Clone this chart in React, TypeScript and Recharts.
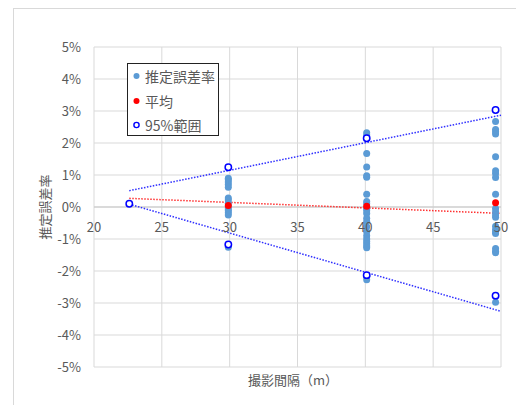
import {
  ComposedChart,
  Scatter,
  XAxis,
  YAxis,
  CartesianGrid,
  ReferenceLine,
} from "recharts";

// 撮影間隔 (m) の位置
const X30 = 29.9;
const X40 = 40.1;
const X50 = 49.6;

// 推定誤差率 (%)
const err30 = [0.9, 0.85, 0.78, 0.7, 0.62, 0.28, 0.22, 0.12, 0.0, -0.06, -0.12, -0.18, -0.25, -1.26];
const err40 = [
  2.32, 2.25, 1.67, 1.25, 0.98, 0.93, 0.4, 0.17, 0.1, -0.05, -0.12, -0.2, -0.35, -0.45, -0.62,
  -0.77, -0.9, -1.0, -1.08, -1.15, -1.22, -1.27, -2.17, -2.27,
];
const err50 = [
  2.67, 2.42, 2.35, 2.28, 1.57, 1.13, 1.05, 0.92, 0.4, -0.05, -0.15, -0.25, -0.32, -0.6, -0.7,
  -0.78, -0.83, -1.3, -1.38, -1.43, -2.98,
];

// 平均
const meanX = [X30, X40, X50];
const meanY = [0.05, 0.02, 0.13];

// 95%範囲
const rangeX = [22.6, X30, X30, X40, X40, X50, X50];
const rangeY = [0.1, 1.24, -1.17, 2.15, -2.13, 3.03, -2.77];

// 近似線 (始点, 終点)
const trendX = [22.6, 50];
const upperTrend = [0.51, 2.87];
const lowerTrend = [0.09, -3.26];
const meanTrend = [0.27, -0.2];

const xTicks = [20, 25, 30, 35, 40, 45, 50];
const yTicks = [-5, -4, -3, -2, -1, 0, 1, 2, 3, 4, 5];

const errData = [
  ...err30.map((y) => ({ x: X30, y })),
  ...err40.map((y) => ({ x: X40, y })),
  ...err50.map((y) => ({ x: X50, y })),
];
const meanData = meanX.map((x, i) => ({ x, y: meanY[i] }));
const rangeData = rangeX.map((x, i) => ({ x, y: rangeY[i] }));

const seg = (ys: number[]) => [
  { x: trendX[0], y: ys[0] },
  { x: trendX[1], y: ys[1] },
];

const W = 516;
const H = 405;
const TOP = 47;
const BOTTOM = 38;
const ZERO_Y = TOP + (H - TOP - BOTTOM) / 2;
const FONT = "'Noto Sans CJK JP', 'Noto Sans', sans-serif";
const TEXT = "#595959";
const GRID = "#d9d9d9";

const XTick = ({ x, payload }: any) => (
  <text x={x} y={ZERO_Y + 19} textAnchor="middle" dominantBaseline="central" fill={TEXT} fontSize={13} fontFamily={FONT}>
    {payload.value}
  </text>
);

const dot = (color: string) => (props: any) =>
  <circle cx={props.cx} cy={props.cy} r={3.5} fill={color} />;

const ring = (props: any) => (
  <circle cx={props.cx} cy={props.cy} r={3.2} fill="#fff" stroke="#0000ff" strokeWidth={1.5} />
);

const legendItems = [
  { label: "推定誤差率", kind: "dot", color: "#5b9bd5" },
  { label: "平均", kind: "dot", color: "#ff0000" },
  { label: "95%範囲", kind: "ring", color: "#0000ff" },
];

export default function App() {
  return (
    <div style={{ position: "absolute", left: 0, top: 0, width: W, height: H, overflow: "hidden", background: "#fff", fontFamily: FONT }}>
      <div style={{ position: "absolute", left: 13, top: 8, width: 600, height: 500, border: `1px solid ${GRID}` }} />
      <div style={{ position: "absolute", left: 0, top: 0 }}>
        <ComposedChart width={W} height={H} margin={{ top: TOP, right: 15, bottom: BOTTOM - 30, left: 0 }}>
          <CartesianGrid stroke={GRID} strokeWidth={1} />
          <XAxis
            type="number"
            dataKey="x"
            domain={[20, 50]}
            ticks={xTicks}
            axisLine={false}
            tickLine={false}
            height={30}
            tick={<XTick />}
            allowDataOverflow
          />
          <YAxis
            type="number"
            dataKey="y"
            domain={[-5, 5]}
            ticks={yTicks}
            width={94}
            axisLine={false}
            tickLine={false}
            tickSize={0}
            tickMargin={13}
            tickFormatter={(v) => `${v}%`}
            tick={{ fill: TEXT, fontSize: 13, fontFamily: FONT }}
          />
          <ReferenceLine y={0} stroke="#c8c8c8" />
          <Scatter data={errData} fill="#5b9bd5" shape={dot("#5b9bd5")} isAnimationActive={false} />
          <ReferenceLine segment={seg(upperTrend)} stroke="#2f2fff" strokeWidth={1.5} strokeDasharray="1.5 1.5" />
          <ReferenceLine segment={seg(lowerTrend)} stroke="#2f2fff" strokeWidth={1.5} strokeDasharray="1.5 1.5" />
          <ReferenceLine segment={seg(meanTrend)} stroke="#ff3030" strokeWidth={1.5} strokeDasharray="1.5 1.5" />
          <Scatter data={meanData} fill="#ff0000" shape={dot("#ff0000")} isAnimationActive={false} />
          <Scatter data={rangeData} fill="#0000ff" shape={ring} isAnimationActive={false} />
        </ComposedChart>
      </div>
      <div
        style={{
          position: "absolute",
          left: 127,
          top: 63,
          width: 90,
          height: 71,
          border: "1px solid #222",
          background: "#fff",
        }}
      >
        {legendItems.map((it, i) => (
          <div key={it.label} style={{ position: "absolute", left: 0, top: 2 + i * 24.7, height: 20, display: "flex", alignItems: "center" }}>
            <svg width={17} height={20} style={{ display: "block" }}>
              {it.kind === "dot" ? (
                <circle cx={8.5} cy={10} r={3} fill={it.color} />
              ) : (
                <circle cx={8.5} cy={10} r={2.6} fill="#fff" stroke={it.color} strokeWidth={1.4} />
              )}
            </svg>
            <span style={{ fontSize: 14, color: TEXT, whiteSpace: "nowrap", lineHeight: "20px" }}>{it.label}</span>
          </div>
        ))}
      </div>
      <div style={{ position: "absolute", left: 213, top: 370, width: 160, textAlign: "center", fontSize: 13, color: TEXT, lineHeight: "20px" }}>
        撮影間隔（m）
      </div>
      <div
        style={{
          position: "absolute",
          left: 45,
          top: 207,
          transform: "translate(-50%, -50%) rotate(-90deg)",
          fontSize: 13,
          color: TEXT,
          whiteSpace: "nowrap",
          lineHeight: "16px",
        }}
      >
        推定誤差率
      </div>
    </div>
  );
}
